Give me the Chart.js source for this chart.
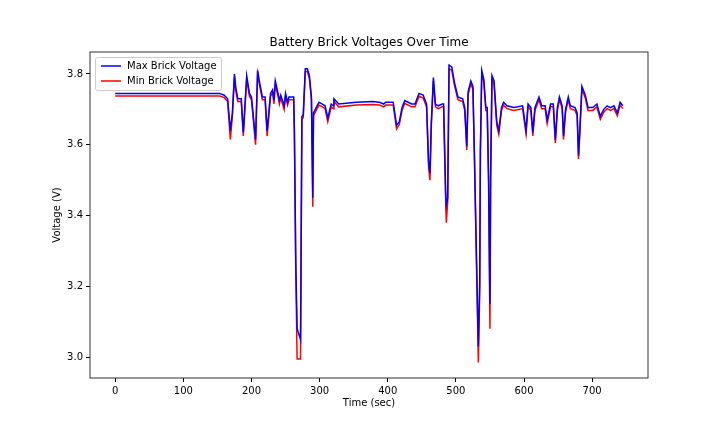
<!DOCTYPE html>
<html><head><meta charset="utf-8">
<script src="https://cdn.jsdelivr.net/npm/chart.js@4/dist/chart.umd.min.js"></script>
<style>html,body{margin:0;padding:0;background:#fff}#w{width:720px;height:432px}</style>
</head><body><div id="w"><canvas id="c"></canvas></div>
<script>
const times=[0,150,153,160,165,169,172,175,177,180,185,188,193,197,200,206,209,212,216,220,223,228,231,233,235,239,241,243,248,250,253,255,262,263,265,267,272,274,276,279,282,285,288,290,291,295,299,304,308,312,317,320,321,328,354,378,387,388,394,397,408,413,417,421,425,430,435,440,446,452,457,460,462,464,467,470,474,480,482,485,486,488,490,494,498,503,510,513,516,518,522,525,527,531,533,535,536,538,541,544,546,548,550,551,553,556,560,563,567,570,575,585,598,603,606,610,613,616,622,626,631,634,639,643,646,649,652,656,658,661,665,668,675,678,680,682,685,690,694,701,707,712,717,722,727,732,737,741,745];
const maxV=[3.745,3.745,3.745,3.74,3.73,3.64,3.69,3.80,3.76,3.73,3.73,3.635,3.795,3.745,3.735,3.615,3.81,3.775,3.735,3.735,3.64,3.745,3.755,3.725,3.78,3.745,3.725,3.74,3.71,3.745,3.72,3.735,3.735,3.64,3.27,3.08,3.05,3.68,3.685,3.815,3.815,3.795,3.735,3.45,3.69,3.705,3.72,3.715,3.71,3.675,3.715,3.71,3.73,3.715,3.72,3.722,3.72,3.72,3.715,3.72,3.72,3.655,3.665,3.705,3.725,3.72,3.715,3.715,3.745,3.74,3.715,3.55,3.52,3.665,3.79,3.715,3.71,3.715,3.715,3.47,3.43,3.45,3.825,3.82,3.775,3.735,3.73,3.705,3.595,3.75,3.78,3.765,3.595,3.21,3.03,3.21,3.585,3.81,3.785,3.705,3.705,3.51,3.15,3.51,3.795,3.78,3.665,3.64,3.705,3.72,3.71,3.705,3.71,3.64,3.715,3.705,3.635,3.705,3.735,3.71,3.71,3.67,3.715,3.715,3.615,3.705,3.735,3.71,3.625,3.70,3.735,3.71,3.705,3.69,3.57,3.645,3.765,3.74,3.705,3.705,3.715,3.68,3.70,3.71,3.705,3.71,3.69,3.72,3.71];
const minV=[3.738,3.738,3.738,3.733,3.722,3.615,3.682,3.79,3.752,3.722,3.722,3.625,3.785,3.737,3.727,3.60,3.80,3.767,3.727,3.727,3.625,3.737,3.747,3.715,3.77,3.737,3.715,3.732,3.70,3.737,3.712,3.727,3.727,3.63,3.25,2.995,2.995,3.672,3.677,3.807,3.807,3.787,3.727,3.425,3.682,3.697,3.712,3.707,3.702,3.665,3.707,3.702,3.722,3.707,3.712,3.714,3.712,3.712,3.707,3.712,3.712,3.645,3.657,3.697,3.717,3.712,3.707,3.707,3.737,3.732,3.707,3.535,3.50,3.655,3.78,3.707,3.702,3.707,3.707,3.44,3.38,3.44,3.815,3.81,3.767,3.727,3.722,3.697,3.585,3.742,3.772,3.757,3.585,3.19,2.985,3.19,3.575,3.80,3.777,3.697,3.697,3.49,3.08,3.49,3.785,3.772,3.655,3.63,3.697,3.712,3.702,3.697,3.702,3.63,3.707,3.697,3.625,3.697,3.727,3.702,3.702,3.66,3.707,3.707,3.605,3.697,3.727,3.702,3.615,3.692,3.727,3.702,3.697,3.682,3.56,3.635,3.757,3.732,3.697,3.697,3.707,3.672,3.692,3.702,3.697,3.702,3.682,3.712,3.702];
const yTicks=[3.0,3.2,3.4,3.6,3.8];
const xTicks=[0,100,200,300,400,500,600,700];
const seriesNames=['Max Brick Voltage','Min Brick Voltage'];
const F='"DejaVu Sans", sans-serif';
const frame={id:'frame',afterDraw(ch){const a=ch.chartArea,c=ch.ctx;c.save();
c.strokeStyle='#000';c.lineWidth=0.8;c.strokeRect(a.left,a.top,a.right-a.left,a.bottom-a.top);
c.fillStyle='#000';c.font='12px '+F;c.textAlign='center';c.textBaseline='alphabetic';
c.fillText('Battery Brick Voltages Over Time',(a.left+a.right)/2,a.top-6);
c.font='10px '+F;c.textBaseline='middle';
c.fillText('Time (sec)',(a.left+a.right)/2,403);
c.save();c.translate(57,(a.top+a.bottom)/2);c.rotate(-Math.PI/2);c.fillText('Voltage (V)',0,0);c.restore();
const lx=a.left+5,ly=a.top+5,lw=126,lh=33;
c.fillStyle='rgba(255,255,255,0.8)';c.strokeStyle='#ccc';c.lineWidth=1;
c.beginPath();c.roundRect(lx+0.5,ly+0.5,lw,lh,2);c.fill();c.stroke();
const cols=['#0000ff','#ff0000'];c.font='10px '+F;c.textAlign='left';c.textBaseline='middle';
seriesNames.forEach((n,i)=>{const y=ly+9+i*15;c.strokeStyle=cols[i];c.lineWidth=1.5;c.beginPath();c.moveTo(lx+6,y);c.lineTo(lx+26,y);c.stroke();c.fillStyle='#000';c.fillText(n,lx+32,y);});
c.restore();}};
const mk=(arr)=>times.map((t,i)=>({x:t,y:arr[i]}));
new Chart(document.getElementById('c'),{type:'line',
data:{datasets:[
{label:seriesNames[0],data:mk(maxV),borderColor:'#0000ff',borderWidth:1.5,pointRadius:0,tension:0},
{label:seriesNames[1],data:mk(minV),borderColor:'#ff0000',borderWidth:1.5,pointRadius:0,tension:0}]},
options:{responsive:true,maintainAspectRatio:false,animation:false,
layout:{padding:{left:0,right:72,top:52,bottom:0}},
plugins:{legend:{display:false},title:{display:false},tooltip:{enabled:false}},
scales:{
x:{type:'linear',min:-37,max:782,afterBuildTicks(s){s.ticks=xTicks.map(v=>({value:v}));},
afterFit(s){s.height=54;},
grid:{drawOnChartArea:false,drawTicks:true,tickLength:4,color:'#000'},border:{display:false},
ticks:{color:'#000',font:{family:F,size:10},maxRotation:0,padding:3}},
y:{min:2.941,max:3.862,afterBuildTicks(s){s.ticks=yTicks.map(v=>({value:v}));},
afterFit(s){s.width=90;},
grid:{drawOnChartArea:false,drawTicks:true,tickLength:4,color:'#000'},border:{display:false},
ticks:{color:'#000',font:{family:F,size:10},padding:3,callback:v=>v.toFixed(1)}}}},
plugins:[frame]});
</script></body></html>
